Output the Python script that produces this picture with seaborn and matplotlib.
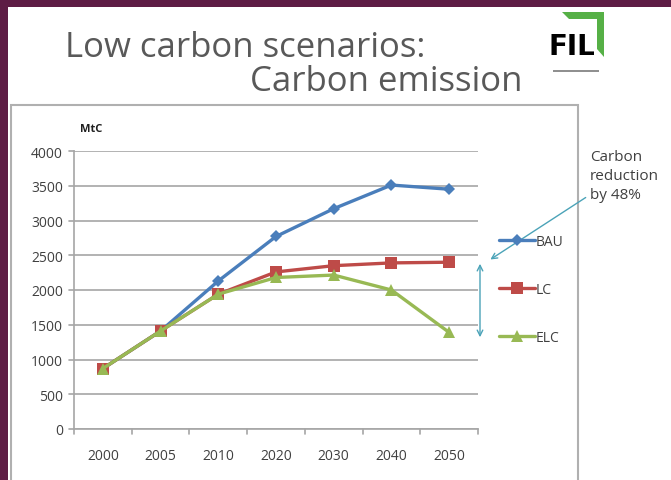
import matplotlib
matplotlib.use("Agg")
import matplotlib.pyplot as plt
import matplotlib.patches as mpatches
from matplotlib.lines import Line2D
import pandas as pd
import seaborn as sns

# data
years = ["2000", "2005", "2010", "2020", "2030", "2040", "2050"]
bau = [870, 1410, 2130, 2770, 3170, 3510, 3450]
lc = [870, 1410, 1940, 2260, 2350, 2390, 2400]
elc = [870, 1410, 1940, 2180, 2215, 2000, 1390]
series = ["BAU", "LC", "ELC"]
y_ticks = list(range(0, 4001, 500))

colors = {"BAU": "#4a7ebb", "LC": "#be4b48", "ELC": "#98b954"}
markers = {"BAU": "D", "LC": "s", "ELC": "^"}
msize = {"BAU": 6, "LC": 8, "ELC": 8}

df = pd.DataFrame({
    "year": years * 3,
    "value": bau + lc + elc,
    "scenario": [s for s in series for _ in years],
})

sns.set_theme(style="white")
plt.rcParams["font.family"] = ["Open Sans", "DejaVu Sans"]

W, H = 671, 481
fig = plt.figure(figsize=(W / 100, H / 100), dpi=100)
fig.patch.set_facecolor("#5e1d45")

# background axes in pixel coords: white slide + chart frame
bg = fig.add_axes([0, 0, 1, 1], zorder=-1)
bg.set_xlim(0, W)
bg.set_ylim(H, 0)
bg.axis("off")
bg.add_patch(mpatches.Rectangle((8, 8), W, H, facecolor="white", edgecolor="none"))
bg.add_patch(mpatches.Rectangle((11, 106), 578 - 11, H, facecolor="white",
                                edgecolor="#b0b0b0", linewidth=1.5))

# logo approximation
bg.add_patch(mpatches.Polygon([(562, 13), (604, 13), (604, 58), (597, 50), (597, 20), (569, 20)],
                              closed=True, facecolor="#56b046", edgecolor="none"))
bg.text(572, 47, "FIL", fontsize=20, fontweight="bold", color="black",
        ha="center", va="center", family="DejaVu Sans")
bg.add_patch(mpatches.Rectangle((553, 71), 46, 1.5, facecolor="#909090", edgecolor="none"))

ax = fig.add_axes([74 / W, (H - 430) / H, (478 - 74) / W, (430 - 152) / H], zorder=1)
ax.set_facecolor("none")

for s in series:
    sub = df[df["scenario"] == s]
    sns.lineplot(data=sub, x="year", y="value", color=colors[s], marker=markers[s],
                 markersize=msize[s], markeredgewidth=0, linewidth=2.4, ax=ax,
                 label=s, sort=False)

ax.set_ylim(0, 4000)
ax.set_xlim(-0.5, len(years) - 0.5)
ax.set_yticks(y_ticks)
ax.set_xticks(range(len(years)))
ax.set_xticklabels(years)
ax.set_xlabel("")
ax.set_ylabel("")
ax.yaxis.grid(True, color="#a6a6a6", linewidth=1.2)
ax.xaxis.grid(False)
for sp in ["top", "right"]:
    ax.spines[sp].set_visible(False)
for sp in ["left", "bottom"]:
    ax.spines[sp].set_color("#a6a6a6")
    ax.spines[sp].set_linewidth(1.2)
ax.tick_params(axis="both", labelsize=10, colors="#404040", length=0, pad=8)
ax.tick_params(axis="x", pad=14)
# excel-like tick marks between categories
for i in range(len(years) + 1):
    ax.plot([i - 0.5, i - 0.5], [0, -70], color="#a6a6a6", lw=1.2, clip_on=False)
for t in y_ticks:
    ax.plot([-0.58, -0.5], [t, t], color="#a6a6a6", lw=1.2, clip_on=False)

handles = [Line2D([], [], color=colors[s], marker=markers[s], markersize=msize[s],
                  markeredgewidth=0, linewidth=2.4) for s in series]
ax.legend(handles, series, loc="upper left", bbox_to_anchor=(486 / W, (H - 222) / H),
          bbox_transform=fig.transFigure, frameon=False, fontsize=10,
          handlelength=2.6, labelspacing=2.4, handletextpad=0.1,
          labelcolor="#404040")

bg.text(80, 130, "MtC", fontsize=8, fontweight="bold", color="#202020",
        va="center", ha="left")

# titles
bg.text(65, 48, "Low carbon scenarios:", fontsize=25, color="#595959", va="center", ha="left")
bg.text(522, 82, "Carbon emission", fontsize=25, color="#595959", va="center", ha="right")

# annotation
bg.text(590, 150, "Carbon\nreduction\nby 48%", fontsize=11, color="#404040",
        va="top", ha="left", linespacing=1.35)
arrow_col = "#4ba3b8"
fig.add_artist(mpatches.FancyArrowPatch((588 / W, (H - 197) / H), (488 / W, (H - 262) / H),
                                        transform=fig.transFigure, arrowstyle="->",
                                        mutation_scale=10, color=arrow_col, lw=1))
fig.add_artist(mpatches.FancyArrowPatch((480 / W, (H - 262) / H), (480 / W, (H - 341) / H),
                                        transform=fig.transFigure, arrowstyle="<->",
                                        mutation_scale=10, color=arrow_col, lw=1))

fig.savefig("out.png", dpi=100, facecolor=fig.get_facecolor())
